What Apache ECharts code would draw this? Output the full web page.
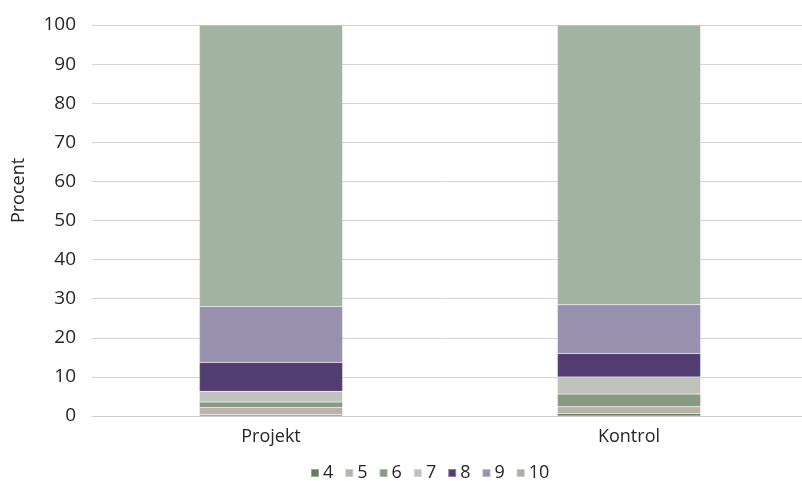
<!DOCTYPE html>
<html>
<head>
<meta charset="utf-8">
<script src="https://cdn.jsdelivr.net/npm/echarts@6/dist/echarts.min.js"></script>
<style>
  html, body { margin: 0; padding: 0; background: #fff; }
  #chart { width: 802px; height: 481px; }
</style>
</head>
<body>
<div id="chart"></div>
<script>
// Response groups (categories) and share of each score, in percent
const categories = ['Projekt', 'Kontrol'];
const scoreNames = ['4', '5', '6', '7', '8', '9', '10'];
const score4  = [0.3, 0.6];
const score5  = [1.9, 1.8];
const score6  = [1.4, 3.2];
const score7  = [2.7, 4.4];
const score8  = [7.4, 6.0];
const score9  = [14.3, 12.5];
const score10 = [72.0, 71.5];
const yTicks = [0, 10, 20, 30, 40, 50, 60, 70, 80, 90, 100];

const seriesValues = [score4, score5, score6, score7, score8, score9, score10];
const colors = ['#637b63', '#b9b4a7', '#889a84', '#bfc1bb', '#523d70', '#9791ad', '#a3b3a3'];
const font = '"Open Sans", sans-serif';
const textColor = '#262626';

const chart = echarts.init(document.getElementById('chart'));
chart.setOption({
  animation: false,
  color: colors,
  grid: { left: 92, right: -6, top: 25, bottom: 65, containLabel: false, outerBoundsMode: 'none' },
  legend: {
    top: 459,
    left: 305,
    itemWidth: 8,
    itemHeight: 8,
    itemGap: 11,
    icon: 'rect',
    textStyle: { fontFamily: font, fontSize: 18, color: textColor, padding: [0, 0, 0, -1] },
    data: scoreNames
  },
  xAxis: {
    type: 'category',
    data: categories,
    axisTick: { show: false },
    axisLine: { lineStyle: { color: '#cfcfcf', width: 1 } },
    axisLabel: { fontFamily: font, fontSize: 18, color: textColor, margin: 12 }
  },
  yAxis: {
    type: 'value',
    min: yTicks[0],
    max: yTicks[yTicks.length - 1],
    interval: 10,
    name: 'Procent',
    nameLocation: 'middle',
    nameGap: 64,
    nameTextStyle: { fontFamily: font, fontSize: 18, color: textColor, padding: [0, 0, 0, 60] },
    axisLine: { show: false },
    axisTick: { show: false },
    axisLabel: { fontFamily: font, fontSize: 19, color: textColor, margin: 16 },
    splitLine: { lineStyle: { color: '#d4d4d4', width: 1 } }
  },
  series: seriesValues.map((vals, i) => ({
    name: scoreNames[i],
    type: 'bar',
    stack: 'total',
    barWidth: '40%',
    data: vals,
    itemStyle: { borderColor: 'rgba(255,255,255,0.35)', borderWidth: 0.5 }
  }))
});
</script>
</body>
</html>
